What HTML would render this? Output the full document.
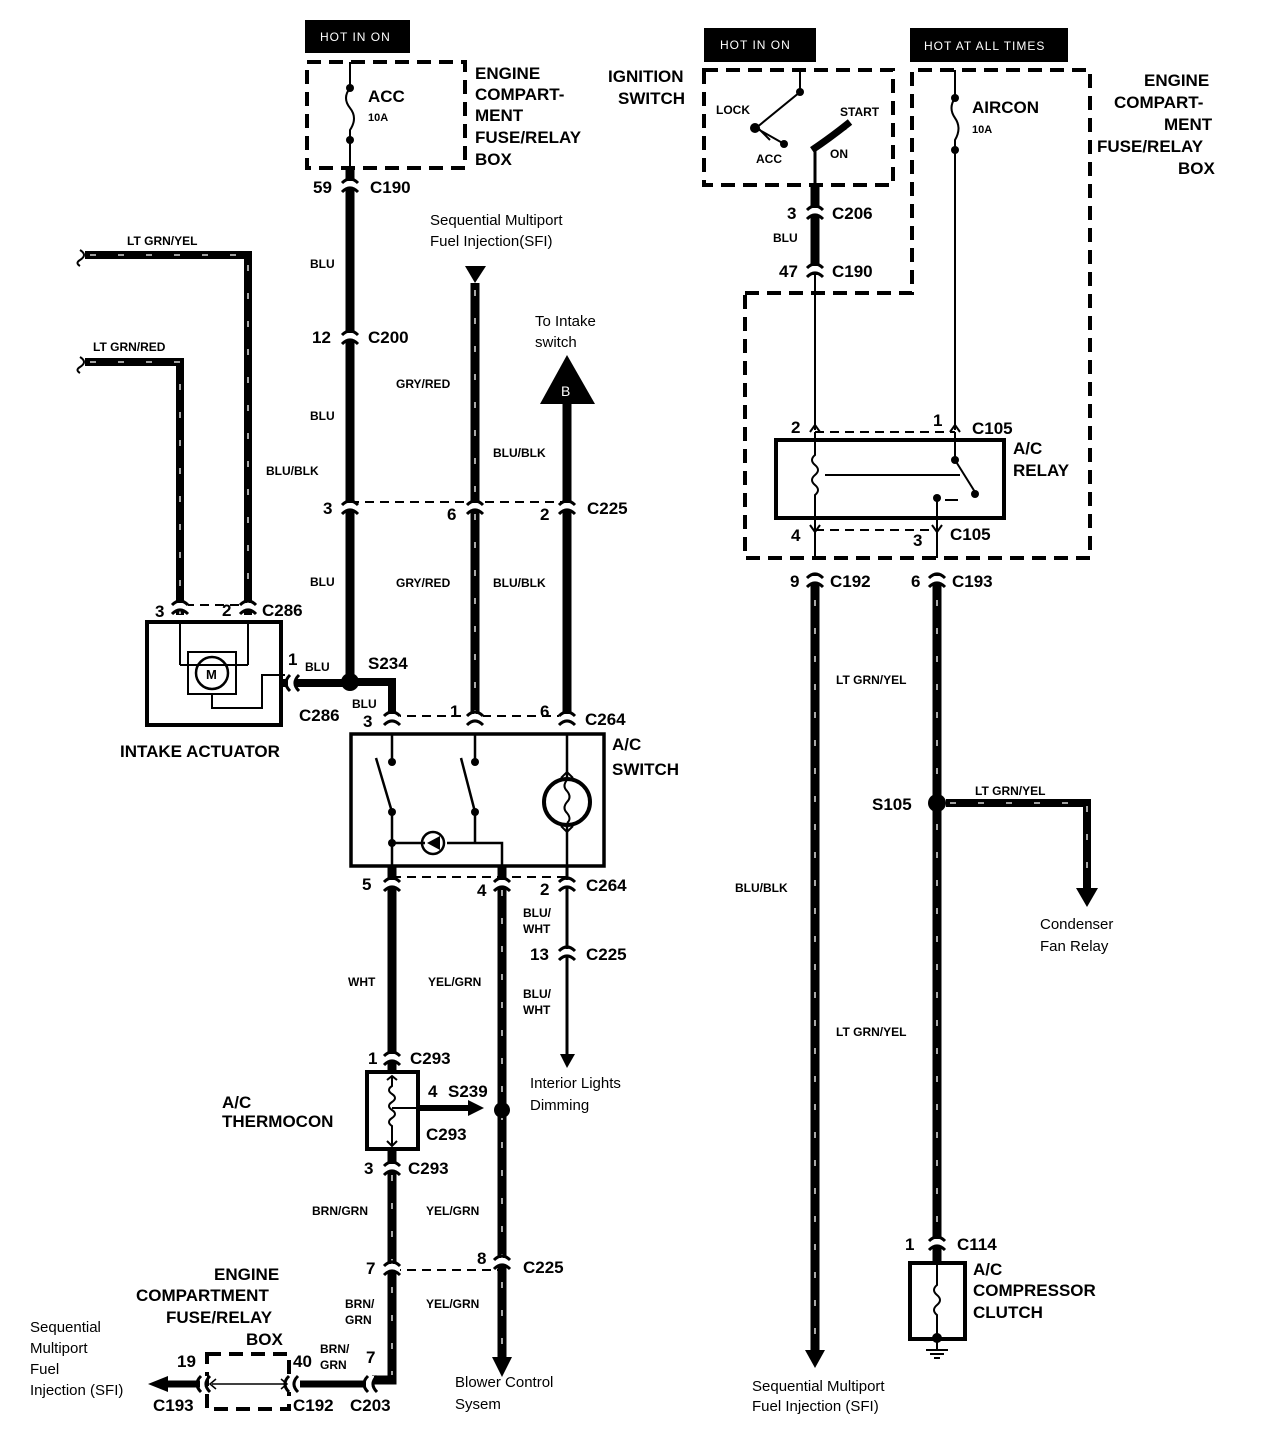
<!DOCTYPE html>
<html><head><meta charset="utf-8"><style>
html,body{margin:0;padding:0;background:#fff}
svg{display:block}
text{font-family:"Liberation Sans",Arial,sans-serif;font-weight:bold;fill:#000}
.b{font-size:17px}
.w{font-size:12px}
.n{font-size:15px;font-weight:normal}
.h{font-size:12px;font-weight:normal;fill:#fff;letter-spacing:1px}
.k{stroke:#000;fill:none}
.d{stroke:#000;fill:none;stroke-width:4;stroke-dasharray:14 8}
.dl{stroke:#000;fill:none;stroke-width:2;stroke-dasharray:9 6}
.hs{stroke:#fff;stroke-width:1.3;stroke-dasharray:6 22;fill:none}
</style></head><body>
<svg width="1264" height="1444" viewBox="0 0 1264 1444" xmlns="http://www.w3.org/2000/svg">
<defs>
<g id="cv"><rect x="-8" y="-4" width="16" height="8" fill="#fff"/><path d="M-8,-2 Q0,-10 8,-2 M-8,7 Q0,-1 8,7" stroke="#000" stroke-width="3" fill="none"/></g>
<g id="ch"><rect x="-4" y="-8" width="8" height="16" fill="#fff"/><path d="M-2,-8 Q-10,0 -2,8 M7,-8 Q-1,0 7,8" stroke="#000" stroke-width="3" fill="none"/></g>
</defs>

<!-- top labels -->
<rect x="305" y="20" width="105" height="33" fill="#000"/><text class="h" x="320" y="41">HOT IN ON</text>
<rect x="704" y="28" width="112" height="34" fill="#000"/><text class="h" x="720" y="49">HOT IN ON</text>
<rect x="910" y="28" width="158" height="34" fill="#000"/><text class="h" x="924" y="50">HOT AT ALL TIMES</text>

<!-- left fuse box -->
<rect x="307" y="62" width="158" height="106" class="d"/>
<path d="M350,62 V88 M350,88 q-8,10 0,20 q8,10 0,22 V168" class="k" stroke-width="2"/>
<circle cx="350" cy="88" r="4"/><circle cx="350" cy="140" r="4"/>
<text class="b" x="368" y="102">ACC</text><text class="w" x="368" y="121" style="font-size:11px">10A</text>
<text class="b" x="475" y="79">ENGINE</text><text class="b" x="475" y="100">COMPART-</text><text class="b" x="475" y="121">MENT</text><text class="b" x="475" y="143">FUSE/RELAY</text><text class="b" x="475" y="165">BOX</text>

<!-- BLU main wire -->
<path d="M350,168 V680" class="k" stroke-width="9"/>
<use href="#cv" x="350" y="185"/><text class="b" x="313" y="193">59</text><text class="b" x="370" y="193">C190</text>
<text class="w" x="310" y="268">BLU</text>
<use href="#cv" x="350" y="337"/><text class="b" x="312" y="343">12</text><text class="b" x="368" y="343">C200</text>
<text class="w" x="310" y="420">BLU</text>
<text class="w" x="266" y="475">BLU/BLK</text>
<path d="M350,502 H568" class="dl"/>
<use href="#cv" x="350" y="507"/><text class="b" x="323" y="514">3</text>
<text class="w" x="310" y="586">BLU</text>

<!-- SFI wire -->
<text class="n" x="430" y="225">Sequential Multiport</text><text class="n" x="430" y="246">Fuel Injection(SFI)</text>
<path d="M465,266 H486 L475,283 Z"/>
<path d="M475,283 V720" class="k" stroke-width="9"/><path d="M475,290 V720" class="hs"/>
<text class="w" x="396" y="388">GRY/RED</text>
<use href="#cv" x="475" y="507"/><text class="b" x="447" y="520">6</text>
<text class="w" x="396" y="587">GRY/RED</text>

<!-- to intake switch -->
<text class="n" x="535" y="326">To Intake</text><text class="n" x="535" y="347">switch</text>
<path d="M540,404 L567,355 L595,404 Z"/><text x="561" y="396" style="font-size:14px;font-weight:normal;fill:#fff">B</text>
<path d="M567,404 V720" class="k" stroke-width="9"/>
<text class="w" x="493" y="457">BLU/BLK</text>
<use href="#cv" x="567" y="507"/><text class="b" x="540" y="520">2</text><text class="b" x="587" y="514">C225</text>
<text class="w" x="493" y="587">BLU/BLK</text>

<!-- intake actuator -->
<path d="M85,255 H248 V615" class="k" stroke-width="8"/><path d="M90,255 H248 V615" class="hs"/>
<path d="M85,362 H180 V615" class="k" stroke-width="8"/><path d="M90,362 H180 V615" class="hs"/>
<path d="M80,250 q8,5 0,10 q-5,3 0,6 M80,357 q8,5 0,10 q-5,3 0,6" class="k" stroke-width="2"/>
<text class="w" x="127" y="245">LT GRN/YEL</text><text class="w" x="93" y="351">LT GRN/RED</text>
<path d="M185,605 H243" class="dl"/>
<use href="#cv" x="180" y="607"/><use href="#cv" x="248" y="607"/>
<text class="b" x="155" y="617">3</text><text class="b" x="222" y="616">2</text><text class="b" x="262" y="616">C286</text>
<rect x="147" y="622" width="134" height="103" class="k" stroke-width="4"/>
<path d="M180,622 V665 M248,622 V665 M180,665 H248" class="k" stroke-width="2"/>
<rect x="188" y="652" width="48" height="42" class="k" stroke-width="2"/>
<circle cx="212" cy="673" r="16" class="k" stroke-width="2.5"/><text x="206" y="679" style="font-size:13px">M</text>
<path d="M212,694 V708 H262 V675 H285" class="k" stroke-width="2"/>
<path d="M281,683 H346" class="k" stroke-width="8"/>
<use href="#ch" x="292" y="683"/>
<text class="b" x="288" y="665">1</text><text class="w" x="305" y="671">BLU</text>
<text class="b" x="299" y="721">C286</text>
<text class="b" x="120" y="757">INTAKE ACTUATOR</text>

<!-- S234 -->
<circle cx="350" cy="682" r="9"/>
<text class="b" x="368" y="669">S234</text>
<path d="M358,682 H392 V720" class="k" stroke-width="8"/>
<text class="w" x="352" y="708">BLU</text>

<!-- A/C switch -->
<path d="M392,716 H567" class="dl"/>
<use href="#cv" x="392" y="718"/><use href="#cv" x="475" y="718"/><use href="#cv" x="567" y="718"/>
<text class="b" x="363" y="727">3</text><text class="b" x="450" y="717">1</text><text class="b" x="540" y="717">6</text><text class="b" x="585" y="725">C264</text>
<rect x="351" y="734" width="253" height="132" class="k" stroke-width="3.5"/>
<text class="b" x="612" y="750">A/C</text><text class="b" x="612" y="775">SWITCH</text>
<path d="M392,734 V762 M475,734 V762 M567,734 V866 M392,812 V866 M475,812 V843 H502 V866 M392,843 H425 M447,843 H475" class="k" stroke-width="2.5"/>
<circle cx="392" cy="762" r="4"/><circle cx="475" cy="762" r="4"/><circle cx="392" cy="812" r="4"/><circle cx="475" cy="812" r="4"/><circle cx="392" cy="843" r="4"/>
<path d="M376,758 L392,812 M461,758 L475,812" class="k" stroke-width="2.5"/>
<circle cx="433" cy="843" r="11" class="k" stroke-width="2.5"/><path d="M440,836 V850 L427,843 Z"/>
<circle cx="567" cy="802" r="23" fill="#fff" stroke="#000" stroke-width="4"/>
<path d="M567,780 q-5,6 0,11 q5,6 0,11 q-5,6 0,11 q5,6 0,10 M561,778 L567,772 L573,778 M561,826 L567,832 L573,826" class="k" stroke-width="2"/>

<!-- below switch -->
<path d="M392,866 V1072" class="k" stroke-width="9"/>
<path d="M502,866 V1360" class="k" stroke-width="9"/><path d="M502,890 V1360" class="hs"/>
<path d="M567,866 V1055" class="k" stroke-width="3"/>
<path d="M560,1054 H575 L567,1068 Z"/>
<path d="M392,877 H567" class="dl"/>
<use href="#cv" x="392" y="884"/><use href="#cv" x="502" y="884"/><use href="#cv" x="567" y="884"/>
<text class="b" x="362" y="890">5</text><text class="b" x="477" y="896">4</text><text class="b" x="540" y="895">2</text><text class="b" x="586" y="891">C264</text>
<text class="w" x="523" y="917">BLU/</text><text class="w" x="523" y="933">WHT</text>
<use href="#cv" x="567" y="953"/><text class="b" x="530" y="960">13</text><text class="b" x="586" y="960">C225</text>
<text class="w" x="523" y="998">BLU/</text><text class="w" x="523" y="1014">WHT</text>
<text class="w" x="348" y="986">WHT</text><text class="w" x="428" y="986">YEL/GRN</text>
<text class="n" x="530" y="1088">Interior Lights</text><text class="n" x="530" y="1110">Dimming</text>

<!-- thermocon -->
<use href="#cv" x="392" y="1058"/><text class="b" x="368" y="1064">1</text><text class="b" x="410" y="1064">C293</text>
<rect x="367" y="1072" width="51" height="77" class="k" stroke-width="4"/>
<path d="M392,1076 V1086 q-6,4 0,8 q6,4 0,8 q-6,4 0,8 q6,4 0,8 q-6,4 0,8 V1146 M387,1080 L392,1076 L397,1080 M387,1141 L392,1146 L397,1141 M392,1108 H470" class="k" stroke-width="2"/>
<path d="M418,1108 H470" class="k" stroke-width="6"/><path d="M468,1100 L484,1108 L468,1116 Z"/>
<text class="b" x="428" y="1097">4</text><text class="b" x="448" y="1097">S239</text><text class="b" x="426" y="1140">C293</text>
<circle cx="502" cy="1110" r="8"/>
<text class="b" x="222" y="1108">A/C</text><text class="b" x="222" y="1127">THERMOCON</text>
<path d="M392,1149 V1380 H372" class="k" stroke-width="9"/><path d="M392,1175 V1375" class="hs"/>
<use href="#cv" x="392" y="1168"/><text class="b" x="364" y="1174">3</text><text class="b" x="408" y="1174">C293</text>
<text class="w" x="312" y="1215">BRN/GRN</text><text class="w" x="426" y="1215">YEL/GRN</text>
<path d="M392,1270 H502" class="dl"/>
<use href="#cv" x="392" y="1268"/><use href="#cv" x="502" y="1262"/>
<text class="b" x="366" y="1274">7</text><text class="b" x="477" y="1264">8</text><text class="b" x="523" y="1273">C225</text>
<text class="w" x="345" y="1308">BRN/</text><text class="w" x="345" y="1324">GRN</text><text class="w" x="426" y="1308">YEL/GRN</text>
<path d="M492,1357 H512 L502,1377 Z"/>
<text class="n" x="455" y="1387">Blower Control</text><text class="n" x="455" y="1409">Sysem</text>

<!-- bottom left -->
<text class="b" x="214" y="1280">ENGINE</text><text class="b" x="136" y="1301">COMPARTMENT</text><text class="b" x="166" y="1323">FUSE/RELAY</text><text class="b" x="246" y="1345">BOX</text>
<rect x="207" y="1354" width="82" height="55" class="d"/>
<path d="M300,1384 H372" class="k" stroke-width="7"/>
<use href="#ch" x="370" y="1384"/><use href="#ch" x="291" y="1384"/><use href="#ch" x="203" y="1384"/>
<path d="M212,1384 H285 M216,1379 L210,1384 L216,1389 M281,1379 L287,1384 L281,1389" class="k" stroke-width="1.5"/>
<path d="M165,1384 H200" class="k" stroke-width="7"/><path d="M168,1376 L148,1384 L168,1392 Z"/>
<text class="b" x="177" y="1367">19</text><text class="b" x="293" y="1367">40</text>
<text class="w" x="320" y="1353">BRN/</text><text class="w" x="320" y="1369">GRN</text><text class="b" x="366" y="1363">7</text>
<text class="b" x="153" y="1411">C193</text><text class="b" x="293" y="1411">C192</text><text class="b" x="350" y="1411">C203</text>
<text class="n" x="30" y="1332">Sequential</text><text class="n" x="30" y="1353">Multiport</text><text class="n" x="30" y="1374">Fuel</text><text class="n" x="30" y="1395">Injection (SFI)</text>

<!-- ignition switch -->
<text class="b" x="608" y="82">IGNITION</text><text class="b" x="618" y="104">SWITCH</text>
<rect x="704" y="70" width="189" height="115" class="d"/>
<path d="M800,70 V92 L756,128 L786,145 M758,128 L770,140" class="k" stroke-width="2"/>
<circle cx="800" cy="92" r="4"/><circle cx="755" cy="128" r="5"/><circle cx="784" cy="144" r="4"/>
<path d="M815,185 V150 Q822,140 846,128" class="k" stroke-width="3"/><path d="M812,150 Q830,138 850,122" class="k" stroke-width="7"/>
<text class="w" x="716" y="114">LOCK</text><text class="w" x="840" y="116">START</text><text class="w" x="756" y="163">ACC</text><text class="w" x="830" y="158">ON</text>
<path d="M815,185 V275" class="k" stroke-width="9"/>
<use href="#cv" x="815" y="212"/><text class="b" x="787" y="219">3</text><text class="b" x="832" y="219">C206</text>
<text class="w" x="773" y="242">BLU</text>
<use href="#cv" x="815" y="270"/><text class="b" x="779" y="277">47</text><text class="b" x="832" y="277">C190</text>
<path d="M815,275 V430" class="k" stroke-width="2"/>

<!-- right big dashed box -->
<path d="M745,293 H912 V70 H1090 V558 H745 Z" class="d"/>
<path d="M955,70 V98 q-7,10 0,20 q7,10 0,22 V430" class="k" stroke-width="2"/>
<circle cx="955" cy="98" r="4"/><circle cx="955" cy="150" r="4"/>
<text class="b" x="972" y="113">AIRCON</text><text class="w" x="972" y="133" style="font-size:11px">10A</text>
<text class="b" x="1144" y="86">ENGINE</text><text class="b" x="1114" y="108">COMPART-</text><text class="b" x="1164" y="130">MENT</text><text class="b" x="1097" y="152">FUSE/RELAY</text><text class="b" x="1178" y="174">BOX</text>

<!-- relay -->
<path d="M815,432 H955" class="dl"/>
<path d="M810,432 L815,425 L820,432 M950,432 L955,425 L960,432" class="k" stroke-width="2"/>
<text class="b" x="791" y="433">2</text><text class="b" x="933" y="426">1</text><text class="b" x="972" y="434">C105</text>
<rect x="776" y="440" width="228" height="78" class="k" stroke-width="4"/>
<text class="b" x="1013" y="454">A/C</text><text class="b" x="1013" y="476">RELAY</text>
<path d="M815,432 V455 q-6,5 0,10 q6,5 0,10 q-6,5 0,10 q6,5 0,10 V558 M955,432 V460 L975,492 M937,500 V558 M825,475 H960 M945,500 H958" class="k" stroke-width="2"/>
<circle cx="955" cy="460" r="4"/><circle cx="975" cy="494" r="4"/><circle cx="937" cy="498" r="4"/>
<path d="M815,530 H937" class="dl"/>
<path d="M810,525 L815,532 L820,525 M932,525 L937,532 L942,525" class="k" stroke-width="2"/>
<text class="b" x="791" y="541">4</text><text class="b" x="913" y="546">3</text><text class="b" x="950" y="540">C105</text>

<!-- lower right -->
<path d="M815,575 V1352" class="k" stroke-width="9"/><path d="M815,600 V1352" class="hs"/>
<path d="M937,575 V1262" class="k" stroke-width="9"/><path d="M937,600 V1235" class="hs"/>
<use href="#cv" x="815" y="580"/><use href="#cv" x="937" y="580"/>
<text class="b" x="790" y="587">9</text><text class="b" x="830" y="587">C192</text>
<text class="b" x="911" y="587">6</text><text class="b" x="952" y="587">C193</text>
<text class="w" x="836" y="684">LT GRN/YEL</text><text class="w" x="836" y="1036">LT GRN/YEL</text>
<text class="w" x="735" y="892">BLU/BLK</text>
<path d="M805,1350 H825 L815,1368 Z"/>
<text class="n" x="752" y="1391">Sequential Multiport</text><text class="n" x="752" y="1411">Fuel Injection (SFI)</text>
<circle cx="937" cy="803" r="9"/><text class="b" x="872" y="810">S105</text>
<path d="M946,803 H1087 V890" class="k" stroke-width="8"/><path d="M950,803 H1087 V885" class="hs"/>
<path d="M1076,888 H1098 L1087,907 Z"/>
<text class="w" x="975" y="795">LT GRN/YEL</text>
<text class="n" x="1040" y="929">Condenser</text><text class="n" x="1040" y="951">Fan Relay</text>
<use href="#cv" x="937" y="1243"/><text class="b" x="905" y="1250">1</text><text class="b" x="957" y="1250">C114</text>
<rect x="910" y="1263" width="55" height="76" class="k" stroke-width="4"/>
<path d="M937,1263 V1285 q-6,5 0,10 q6,5 0,10 q-6,5 0,10 V1350 M926,1350 H948 M930,1354 H944 M934,1358 H940" class="k" stroke-width="2"/>
<circle cx="937" cy="1338" r="5"/>
<text class="b" x="973" y="1275">A/C</text><text class="b" x="973" y="1296">COMPRESSOR</text><text class="b" x="973" y="1318">CLUTCH</text>
</svg>
</body></html>
